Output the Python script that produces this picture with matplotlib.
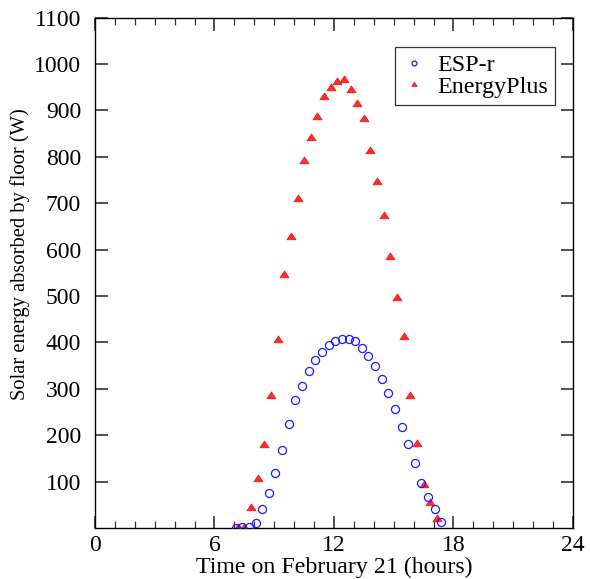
import matplotlib
matplotlib.use("Agg")
import matplotlib.pyplot as plt
from matplotlib.path import Path
from matplotlib.ticker import MultipleLocator, FixedLocator

# ---- data ----
esp_time = [7.06, 7.39, 7.73, 8.06, 8.39, 8.73, 9.06, 9.39, 9.73, 10.06,
            10.39, 10.73, 11.06, 11.39, 11.73, 12.06, 12.39, 12.73, 13.06, 13.39,
            13.73, 14.06, 14.39, 14.73, 15.06, 15.39, 15.73, 16.06, 16.39, 16.73,
            17.06, 17.39]
esp_vals = [0, 2, 3, 10, 41, 76, 119, 169, 225, 275,
            306, 338, 362, 379, 394, 404, 407, 407, 402, 387,
            371, 350, 321, 290, 256, 218, 182, 141, 98, 66,
            40, 12]

ep_time = [7.17, 7.50, 7.83, 8.17, 8.50, 8.83, 9.17, 9.50, 9.83, 10.17,
           10.50, 10.83, 11.17, 11.50, 11.83, 12.17, 12.50, 12.83, 13.17, 13.50,
           13.83, 14.17, 14.50, 14.83, 15.17, 15.50, 15.83, 16.17, 16.50, 16.83,
           17.17]
ep_vals = [3, 3, 46, 108, 180, 287, 407, 547, 629, 712,
           794, 843, 889, 931, 950, 963, 968, 946, 917, 884,
           815, 748, 674, 587, 498, 414, 287, 183, 95, 55,
           21]

x_major = [0, 6, 12, 18, 24]
y_major = [100, 200, 300, 400, 500, 600, 700, 800, 900, 1000, 1100]

series_names = ["ESP-r", "EnergyPlus"]
x_label = "Time on February 21 (hours)"
y_label = "Solar energy absorbed by floor (W)"

# ---- style ----
plt.rcParams['font.family'] = ['Liberation Serif', 'DejaVu Serif']
FS_TICK = 17
FS_XLAB = 17.2
FS_YLAB = 14.8
FS_LEG = 17.3

fig = plt.figure(figsize=(5.90, 5.79), dpi=100)
ax = fig.add_axes([95/590, 1 - 528/579, 478/590, (528 - 17.6)/579])

tri = Path([(0, 0.78), (-1, -0.72), (1, -0.72), (0, 0.78)],
           [Path.MOVETO, Path.LINETO, Path.LINETO, Path.CLOSEPOLY])

ax.plot(esp_time, esp_vals, linestyle='none', marker='o', markersize=5.8,
        markerfacecolor='none', markeredgecolor='#1a1aff', markeredgewidth=0.9,
        label=series_names[0], zorder=3)
ax.plot(ep_time, ep_vals, linestyle='none', marker=tri, markersize=6.6,
        markerfacecolor='#ff2a2a', markeredgecolor='#ee1111', markeredgewidth=0.5,
        label=series_names[1], zorder=2)

ax.set_xlim(0, 24)
ax.set_ylim(0, 1100)
ax.xaxis.set_major_locator(FixedLocator(x_major))
ax.xaxis.set_minor_locator(MultipleLocator(1))
ax.yaxis.set_major_locator(FixedLocator(y_major))

ax.tick_params(which='both', direction='in', top=True, right=True,
               labelsize=FS_TICK, color='#333333')
ax.tick_params(which='major', length=9, width=1.2)
ax.tick_params(which='minor', length=5, width=0.9)
ax.tick_params(axis='x', pad=5)
ax.tick_params(axis='y', pad=10)
for s in ax.spines.values():
    s.set_linewidth(1.0)

ax.set_xlabel(x_label, fontsize=FS_XLAB, labelpad=0.6)
ax.set_ylabel(y_label, fontsize=FS_YLAB, labelpad=3)
ax.yaxis.label.set_y(0.537)

leg = ax.legend(loc='upper right', bbox_to_anchor=(555/590, 1 - 47/579),
                bbox_transform=fig.transFigure, fontsize=FS_LEG,
                frameon=True, fancybox=False, shadow=False,
                markerscale=0.6, handlelength=1.0, handletextpad=0.47,
                borderpad=0.3, labelspacing=0.0, borderaxespad=0)
leg.get_frame().set_edgecolor('black')
leg.get_frame().set_linewidth(0.9)

fig.savefig("out.png", dpi=100)
